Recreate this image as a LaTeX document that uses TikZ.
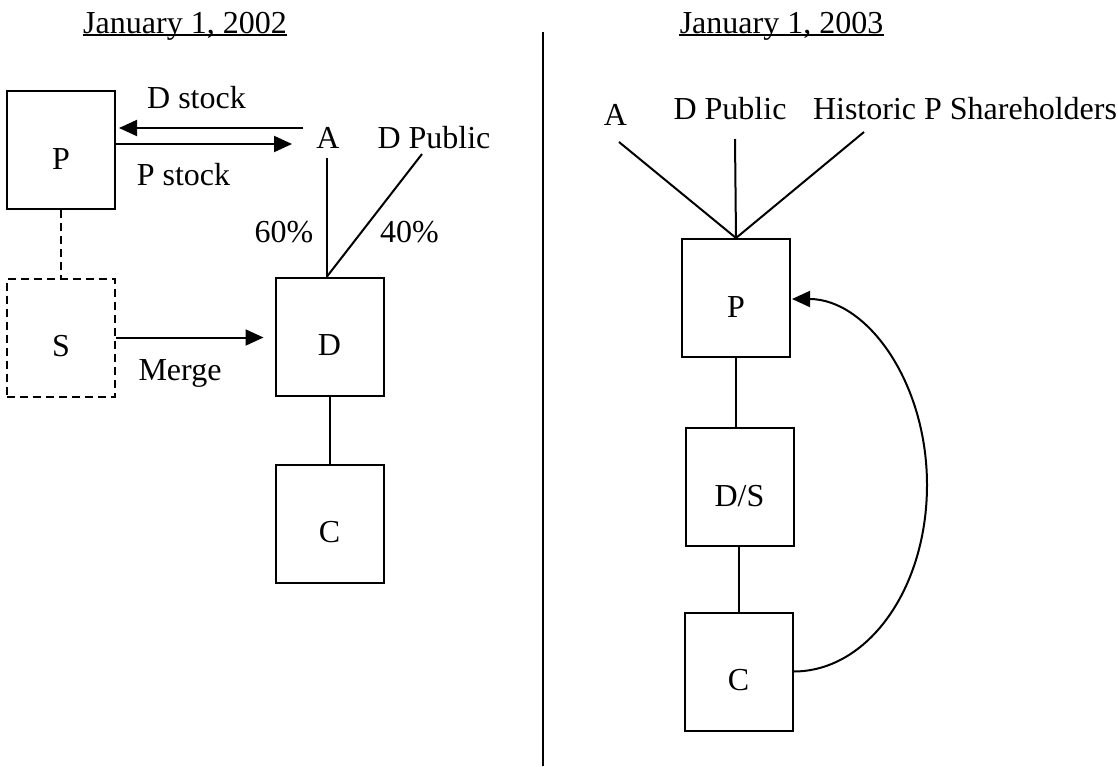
\documentclass[tikz,border=0pt]{standalone}
\usepackage{fontspec}
\setmainfont{Liberation Serif}
\usetikzlibrary{arrows.meta}
\newcommand\diagfont{\fontsize{16pt}{19pt}\selectfont}
\tikzset{
  box/.style={draw, line width=1pt, rectangle, minimum width=54pt, minimum height=59pt,
    inner sep=0pt, text height=19pt, text depth=0pt, font=\diagfont},
  dbox/.style={box, dash pattern=on 4pt off 2.5pt},
  lbl/.style={font=\diagfont, inner sep=0pt, anchor=base},
  conn/.style={line width=1pt},
  arr/.style={conn, -{Triangle[length=9pt,width=8pt]}},
  uline/.style={line width=0.6pt}
}
\begin{document}
\begin{tikzpicture}[x=0.5pt,y=-0.5pt]
\useasboundingbox (0,0) rectangle (1118,766);
% ---------- left panel ----------
\node[lbl] (tL) at (185,33) {January 1, 2002};
\draw[uline] ([yshift=-1pt]tL.base west) -- ([yshift=-1pt]tL.base east);

\node[box] (Pl) at (61,150) {P};
\node[dbox] (Sl) at (61,337.5) {S};
\node[box] (Dl) at (329.5,336.5) {D};
\node[box] (Cl) at (329.5,523.5) {C};

\node[lbl] (dstock) at (196.5,108) {D stock};
\node[lbl] (pstock) at (183.5,185) {P stock};
\node[lbl] (AL) at (328,148) {A};
\node[lbl] (DPL) at (434,148) {D Public};
\node[lbl] (p60) at (284,242) {60\%};
\node[lbl] (p40) at (409.5,242) {40\%};
\node[lbl] (merge) at (180,380) {Merge};

\coordinate (dsA) at (303,128);
\coordinate (psA) at (292,144);
\coordinate (aL) at (327,158);
\coordinate (dpL) at (422,154);

\draw[arr] (dsA) -- ([xshift=1.5pt]dsA -| Pl.east);
\draw[arr] (psA -| Pl.east) -- (psA);
\draw[conn] (aL) -- (aL |- Dl.north);
\draw[conn] (dpL) -- (aL |- Dl.north);
\draw[conn, dash pattern=on 4pt off 2.5pt] (Pl.south) -- (Sl.north);
\draw[arr] (Sl.east) -- ([xshift=-5.5pt]Sl.east -| Dl.west);
\draw[conn] (Dl.south) -- (Cl.north);

% ---------- divider ----------
\coordinate (divT) at (543,32);
\coordinate (divB) at (543,766);
\draw[line width=1pt] (divT) -- (divB);

% ---------- right panel ----------
\node[lbl] (tR) at (781.5,33) {January 1, 2003};
\draw[uline] ([yshift=-1pt]tR.base west) -- ([yshift=-1pt]tR.base east);

\node[lbl] (AR) at (615.5,125) {A};
\node[lbl] (DPR) at (730,119) {D Public};
\node[lbl] (HPR) at (965,119) {Historic P Shareholders};

\node[box] (Pr) at (736,298) {P};
\node[box] (DSr) at (739.5,487) {D/S};
\node[box] (Cr) at (738.5,671.5) {C};

\coordinate (aR) at (619,142);
\coordinate (dpR) at (735,139);
\coordinate (hR) at (864,132);
\coordinate (tipR) at (792,299);

\draw[conn] (aR) -- (Pr.north);
\draw[conn] (dpR) -- (Pr.north);
\draw[conn] (hR) -- (Pr.north);
\draw[conn] (Pr.south) -- (Pr.south |- DSr.north);
\draw[conn] (Cr.north |- DSr.south) -- (Cr.north);
\draw[arr] (Cr.east) .. controls +(74.6,0) and (927,588.3) .. (927,485)
  .. controls (927,381.7) and (866.6,299) .. (tipR);
\end{tikzpicture}
\end{document}
